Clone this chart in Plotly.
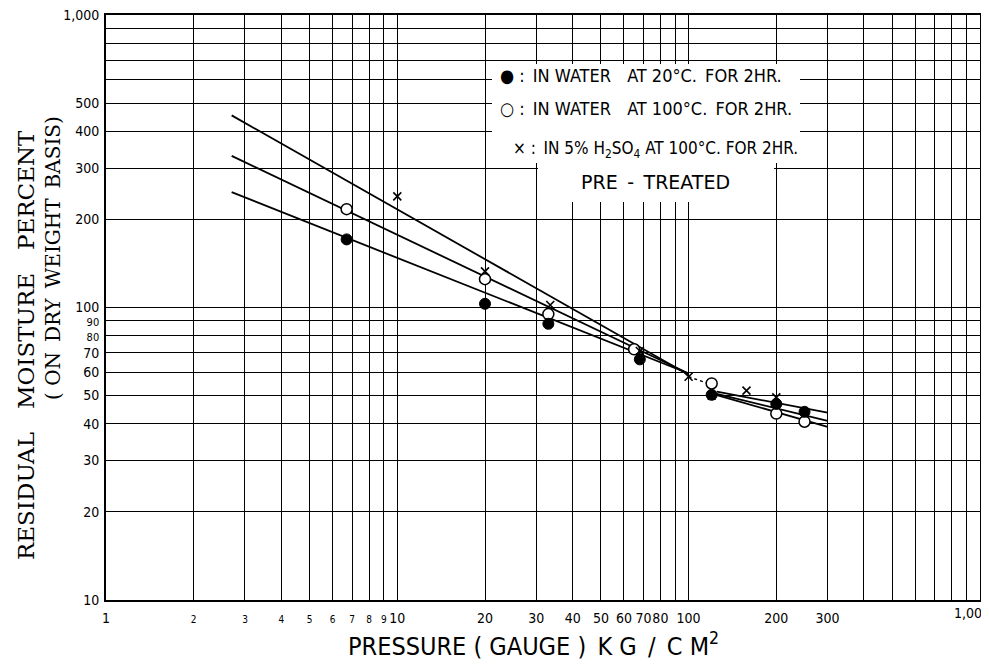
import plotly.graph_objects as go

# ---- data ----
filled_x = [6.7, 20, 33, 68, 120, 200, 250]
filled_y = [171, 103, 88, 66.5, 50.3, 46.8, 44]
open_x = [6.7, 20, 33, 65, 120, 200, 250]
open_y = [217, 125, 95, 72, 55, 43.4, 40.7]
cross_x = [10, 20, 33.5, 68, 100, 120, 158, 200]
cross_y = [240, 133, 102, 71, 58, 50, 52, 49.3]

# fitted lines: left part (to convergence at 100) and right part (120-300)
line_left_x = [2.7, 100]
line_left_cross = [454, 58.9]
line_left_open = [330, 59.5]
line_left_filled = [248, 59.5]
line_right_x = [125, 300]
line_right_top = [51.6, 43.7]
line_right_mid = [50.7, 41.0]
line_right_bot = [50.2, 39.1]
connector_x = [100, 120]
connector_y = [58, 54.5]

x_tick_vals = [1, 2, 3, 4, 5, 6, 7, 8, 9, 10, 20, 30, 40, 50, 60, 70, 80, 90,
               100, 200, 300, 400, 500, 600, 700, 800, 900, 1000]
x_tick_text = ["1", "2", "3", "4", "5", "6", "7", "8", "9", "10", "20", "30", "40",
               "50", "60", "70", "80", "", "100", "200", "300", "", "", "", "", "", "", ""]
x_last_label = "1,00"
x_small = {"2", "3", "4", "5", "6", "7", "8", "9"}
y_tick_vals = [10, 20, 30, 40, 50, 60, 70, 80, 90, 100, 200, 300, 400, 500,
               600, 700, 800, 900, 1000]
y_tick_text = ["10", "20", "30", "40", "50", "60", "70", "80", "90", "100", "200",
               "300", "400", "500", "", "", "", "", "1,000"]
y_small = {"80", "90"}

legend_lines = ["● :\u2002IN WATER\u2003AT 20°C.\u2002FOR 2HR.",
                "○ :\u2002IN WATER\u2003AT 100°C.\u2002FOR 2HR.",
                "× :\u2002IN 5% H<sub>2</sub>SO<sub>4</sub> AT 100°C. FOR 2HR.",
                "PRE\u2002-\u2002TREATED"]

SANS = "DejaVu Sans Condensed, Liberation Sans Narrow, Roboto Condensed, Arial Narrow, sans-serif"
WIDE = "DejaVu Sans, Verdana, sans-serif"
SERIF = "DejaVu Serif, Liberation Serif, serif"

def fmt(t, small, size):
    if t in small:
        return '<span style="font-size:%dpx">%s</span>' % (size, t)
    return t

fig = go.Figure()
line_style = dict(color="black", width=1.8)
for ys in (line_left_cross, line_left_open, line_left_filled):
    fig.add_trace(go.Scatter(x=line_left_x, y=ys, mode="lines", line=line_style,
                             showlegend=False, hoverinfo="skip"))
for ys in (line_right_top, line_right_mid, line_right_bot):
    fig.add_trace(go.Scatter(x=line_right_x, y=ys, mode="lines", line=line_style,
                             showlegend=False, hoverinfo="skip"))
fig.add_trace(go.Scatter(x=connector_x, y=connector_y, mode="lines",
                         line=dict(color="black", width=1.5, dash="3px,3px"),
                         showlegend=False, hoverinfo="skip"))

fig.add_trace(go.Scatter(x=open_x, y=open_y, mode="markers", showlegend=False,
                         marker=dict(symbol="circle", size=11, color="white",
                                     line=dict(color="black", width=1.5))))
fig.add_trace(go.Scatter(x=filled_x, y=filled_y, mode="markers", showlegend=False,
                         marker=dict(symbol="circle", size=11, color="black",
                                     line=dict(color="black", width=1))))
fig.add_trace(go.Scatter(x=cross_x, y=cross_y, mode="markers", showlegend=False,
                         marker=dict(symbol="x-thin", size=8, color="black",
                                     line=dict(color="black", width=1.6))))

axis_common = dict(type="log", showgrid=True, gridcolor="black", gridwidth=1,
                   showline=True, linecolor="black", linewidth=2, mirror=True,
                   ticks="", zeroline=False, automargin=False, tickangle=0,
                   tickfont=dict(family=SANS, size=14, color="black"))
fig.update_xaxes(range=[0, 3.0003], tickvals=x_tick_vals,
                 ticktext=[fmt(t, x_small, 10) for t in x_tick_text], ticklabelstandoff=4,
                 **axis_common)
fig.update_yaxes(range=[1, 3.0003], tickvals=y_tick_vals,
                 ticktext=[fmt(t, y_small, 11) for t in y_tick_text], ticklabelstandoff=2,
                 **axis_common)

# page pixel -> paper coordinates (plot area spans x 106..980, y 15..600 on the page)
def px(xp):
    return (xp - 106) / 874.0

def py(yp):
    return (600 - yp) / 585.0

# last x tick label, placed so it stays inside the page
fig.add_annotation(x=px(984), y=py(613), xref="paper", yref="paper", text=x_last_label,
                   showarrow=False, xanchor="right", yanchor="middle",
                   font=dict(family=SANS, size=14, color="black"))

# white legend patch
fig.add_shape(type="rect", xref="paper", yref="paper", x0=px(492), x1=px(800),
              y0=py(163), y1=py(64), fillcolor="white", line=dict(width=0), layer="above")
fig.add_shape(type="rect", xref="paper", yref="paper", x0=px(538), x1=px(774),
              y0=py(202), y1=py(163), fillcolor="white", line=dict(width=0), layer="above")

leg_pos = [(498, 76), (498, 108), (511, 150), (579, 182)]
leg_size = [18, 18, 17, 19]
leg_font = [SANS, SANS, SANS, WIDE]
for (lx, ly), txt, sz, fam in zip(leg_pos, legend_lines, leg_size, leg_font):
    fig.add_annotation(x=px(lx), y=py(ly), xref="paper", yref="paper", text=txt,
                       showarrow=False, xanchor="left", yanchor="middle",
                       font=dict(family=fam, size=sz, color="black"))

fig.add_annotation(x=px(533), y=py(644), xref="paper", yref="paper",
                   text="PRESSURE ( GAUGE )\u2002K G\u2002/\u2002C M<sup>2</sup>", showarrow=False,
                   xanchor="center", yanchor="middle",
                   font=dict(family=SANS, size=25, color="black"))
fig.add_annotation(x=px(26), y=py(345), xref="paper", yref="paper",
                   text="RESIDUAL\u2003MOISTURE\u2003PERCENT", textangle=-90,
                   showarrow=False, xanchor="center", yanchor="middle",
                   font=dict(family=SERIF, size=23, color="black"))
fig.add_annotation(x=px(53), y=py(258), xref="paper", yref="paper",
                   text="( ON\u2002DRY\u2002WEIGHT\u2002BASIS)", textangle=-90, showarrow=False,
                   xanchor="center", yanchor="middle",
                   font=dict(family=SERIF, size=20, color="black"))

# the page body adds an 8px offset, so the figure is 8px smaller with shifted margins
fig.update_layout(width=981, height=658, paper_bgcolor="white", plot_bgcolor="white",
                  margin=dict(l=98, r=9, t=7, b=66), showlegend=False)
fig.write_html("out.html")
